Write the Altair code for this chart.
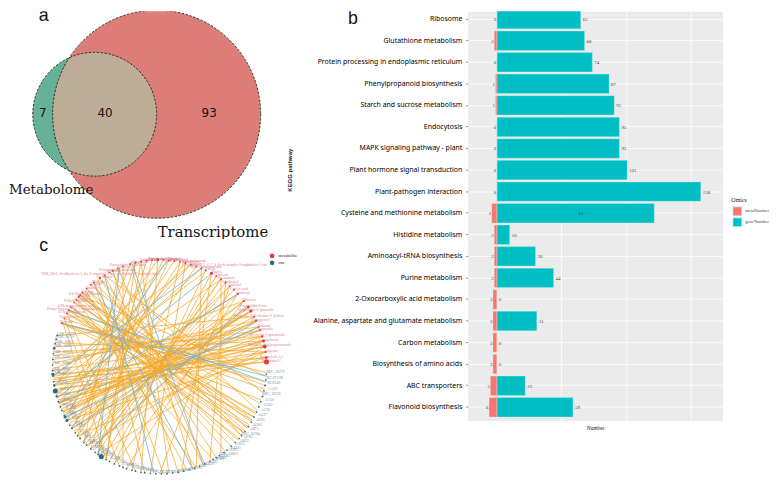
import math
import altair as alt
import pandas as pd

# ---------- panel b ----------
pathways = ["Ribosome", "Glutathione metabolism", "Protein processing in endoplasmic reticulum",
            "Phenylpropanoid biosynthesis", "Starch and sucrose metabolism", "Endocytosis",
            "MAPK signaling pathway - plant ", "Plant hormone signal transduction",
            "Plant-pathogen interaction", "Cysteine and methionine metabolism", "Histidine metabolism",
            "Aminoacyl-tRNA biosynthesis", "Purine metabolism", "2-Oxocarboxylic acid metabolism",
            "Alanine, aspartate and glutamate metabolism", "Carbon metabolism",
            "Biosynthesis of amino acids", "ABC transporters", "Flavonoid biosynthesis"]
gene_bar = [65, 68, 74, 87, 91, 95, 95, 101, 158, 122, 10, 30, 44, 0, 31, 0, 0, 22, 59]
meta_bar = [0, 2, 0, 1, 1, 0, 0, 0, 0, 4, 2, 2, 2, 3, 3, 3, 3, 5, 6]
gene_text = [65, 68, 74, 87, 91, 95, 95, 101, 158, 61, 10, 30, 44, 0, 31, 0, 0, 22, 59]
meta_text = [0, 2, 0, 1, 1, 0, 0, 0, 0, 2, 2, 2, 2, 3, 3, 3, 3, 5, 6]
gene_text_at = [65, 68, 74, 87, 91, 95, 95, 101, 158, 62, 10, 30, 44, 0, 31, 0, 0, 22, 59]

# ---------- panel a ----------
venn_values = ["7", "40", "93"]
venn_x = [42, 105, 210]
big_circle = (157, 112, 105)
small_circle = (94.5, 112, 62.5)

# ---------- panel c ----------
met_angle = [2.7, 5, 8, 11, 14, 16.5, 20, 22, 25.6, 28, 31.5, 34, 38, 43, 46, 49, 52, 55, 58, 61,
             64.5, 67, 70, 73, 76, 79, 82, 85, 88, 91, 94, 97, 100, 103, 106, 110, 113, 116, 118,
             121, 124, 128, 130, 133, 136, 138, 139, 141, 143, 146, 148, 150, 153, 156]
met_size = [28, 8, 4, 16, 10, 6, 4, 3, 5, 4, 10, 8, 4, 5, 3, 4, 4, 4, 3, 10,
            4, 4, 3, 3, 4, 4, 3, 3, 3, 8, 3, 3, 4, 4, 4, 3, 3, 3, 3,
            4, 5, 3, 3, 3, 3, 4, 4, 3, 3, 3, 4, 3, 3, 4]
met_name = ["Taxumairol C", "Kaempferol A2", "Apigenin", "Quercetin-3-glucopyranoside",
            "Isorhamnetin", "Myricetin-3-galactoside", "Rutinoside", "Chalcone", "Naringenin C",
            "Hesperetin-7-O-rhamno-2_4-diene", "Delphinidin-3-glucoside", "Procyanidin-8-one",
            "Phloretin", "Coniferyl", "Caffeic acid", "Catechol", "Eriodictyol", "Piceatannol",
            "Coniferin", "Phytol", "Fisetin", "Resveratrol glucoside",
            "Hexahydro-3_5_6_7_8_8a-hexahydro-8-naphthalen-1-one", "Syringin", "Sakuranetin",
            "Vitexin-2-O-glucopyranoside", "Ferulic acid", "Betaine", "Luteolin-7-glucoside",
            "Dihydrokaempferol", "Sinapic acid", "Gallic acid", "Orientin", "Scopoletin", "Tricin",
            "Pinocembrin-7-glucoside", "Aesculin", "Pelargonidin-3-rutinoside", "Cyanidin",
            "HdB_Hb-6_8a-dihydroxy-1_6a_3-trimethyl-2-oxo-decahydro-1H-naphtho-furan",
            "Pyranoside", "Malvidin", "Genistin", "Daidzin", "Puerarin",
            "6-b-Neohesperidoside", "Peonidin", "Glycitein", "8-Hydroxyquinoline", "4-Methoxycinnamic acid",
            "D-myo-Inositol-1_4_5-trisphosphate", "6-Hydroxyflavone", "Isoquercitrin", "Tyramine"]
rna_angle = [-4, -7, -10, -13, -16, -19, -22, -25, -28, -31, -34, -37, -40, -42, -45, -48, -51, -53,
             -56, -58, -60, -62, -65, -68, -71, -74, -77, -80, -83, -86, -89, -92, -95, -98, -100,
             -103, -105, -108, -110, -112, -115, -118, -120, -123, -125, -127, -130, -133, -135,
             -138, -140, -142, -145, -147, -150, -152, -153, -156, -158, -161, -164, -167, -170,
             -172, -175, -176, -178, -181, -184, -187, -190, -192.5, -195, -197]
rna_size = [3, 3, 4, 3, 4, 3, 3, 3, 3, 3, 3, 3, 3, 3, 3, 3, 3, 3,
            3, 3, 3, 3, 3, 3, 3, 3, 3, 3, 3, 3, 3, 3, 3, 4, 3,
            3, 3, 3, 3, 3, 3, 3, 3, 26, 4, 3, 3, 3, 3,
            4, 3, 3, 4, 3, 10, 8, 3, 3, 3, 4, 6, 26, 6, 3, 3, 12, 4, 3, 3, 3, 8, 3, 4, 4]
rna_name = ["BBC_16279", "BGAT3-IB", "BCPL69", "CAS2", "BBC_16730", "ACO1", "ACO2", "ACS6", "AGT7",
            "AOS1", "AOS2", "ARF5", "BBC_16784", "APX3", "ABF2", "ASL2", "ADH1", "AUX1",
            "CDK_16801", "BZR1", "CHS2", "CIPK9", "COI1", "CPK28", "CRK7", "CTR1", "DFR", "EDS1",
            "EIN2", "ERF1", "ETR1", "F3H", "FLS2", "GH3", "GID1", "GPX4", "GST1", "HCT", "HSP70",
            "IAA4", "JAR1", "JAZ3", "KAT2", "LOX2", "MAPK3", "MKK4", "MPK6", "MYB75", "NPR1",
            "NHL3", "OPR3", "PAL1", "PDF1", "PIF4", "PP2C", "PR1", "PTI5", "RAR1", "RBOHD",
            "RIN4", "SAUR3", "SGT1", "SNRK2", "TGA2", "TIR1", "CDK_16917", "CDK_16902", "CDK_16884",
            "CDK_16861", "CDK_16833", "CDK_16822", "CDK_16810", "CDK_16791", "CDK_16776"]
orange_a = [2.7, 5, 8, 11, 11, 14, 14, 16.5, 16.5, 20, 22, 25.6, 25.6, 28, 31.5, 31.5, 34, 34, 38, 43,
            43, 49, 52, 55, 55, 148, 148, 150, 146, 143, 139, 139, 138, 136, 133, 130, 124, 124,
            121, 121, 118, 156, 156, 153, 156, 100, 91, 79, 76, 67, 64.5, 61, 55, 52, 49, 106, 103,
            110, 97, 94, 85, 82, 70, 73, 116, 113, 125, 128, 134, 141, 145, 150, 153, 155, 112, 88,
            156, 148, 138, 5, 8, 11, 14, 25, 31, 34, 38, 43, 49, 55, 61, 64, 67, 73, 76, 79, 85, 91,
            100, 103, 106, 8, 14, 20, 28, 38, 11, 16.5, 22,
            2.7, 5, 8, 14, 20, 25.6, 31.5, 38, 46, 58, 143, 146, 138, 133, 128, 141, 150, 136]
orange_b = [186, 190, 188, 193, 196, 196, 199, 201, 182, 203, 205, 208, 178, 210, 212, 215, 217, 207,
            221, 224, 202, 228, 231, 234, 195, -38, -30, -34, -42, -26, -45, -20, -38, -48, -52, -30,
            -58, -40, -66, -14, -24, -28, -18, -12, -8, -85, -100, -105, -95, -70, -115, -78, -55,
            -62, -90, -72, -120, -110, -130, -125, -135, -150, -140, -160, -80, -65, -98, -88, -75,
            -70, -60, -103, -112, -120, -135, -145, -3, -10, -5, -150, -140, -125, -133, -160, -155,
            -130, -115, -108, -142, -128, -118, -170, -165, -175, -155, -145, -170, -160, -120, -140,
            -150, 167, 172, 176, 163, 181, 185, 169, 174,
            192, 184, 198, 187, 190, 200, 206, 214, 226, 238, -28, -33, -31, -37, -35, -43, -25, -40]
blue_a = [148, 156, 121, 112, 86, 67, 22, 35, 105, 128, 61, 25, 43]
blue_b = [-8, -5, -93, 235, 208, 185, 208, 230, -66, -72, 197, 215, 200]

PAGE_LEFT, PAGE_TOP = 8, 8
LEFT_W, A_W, A_H, C_H = 275, 400, 230, 244
CX, CY, R = 160, 367, 108

# ---------- build a ----------
def lens_rows():
    rows = []
    bx, by, br = big_circle
    sx, sy, sr = small_circle
    cross = 68.8
    steps = [52.2, 52.6, 53, 54, 56, 58, 60, 63, 66, cross, 72, 76, 80, 85, 90, 94.5, 100, 105, 110,
             115, 120, 125, 130, 135, 140, 145, 149, 152, 154, 155.5, 156.5, 157]
    for x in steps:
        if x < cross:
            h = math.sqrt(max(br * br - (x - bx) ** 2, 0))
        else:
            h = math.sqrt(max(sr * sr - (x - sx) ** 2, 0))
        rows.append({"x": x, "y": by - h, "y2": by + h})
    return pd.DataFrame(rows)

xa = alt.Scale(domain=[PAGE_LEFT, PAGE_LEFT + A_W])
ya = alt.Scale(domain=[PAGE_TOP + A_H, PAGE_TOP])
circle_df = pd.DataFrame([
    {"x": small_circle[0], "y": small_circle[1], "s": (2 * small_circle[2]) ** 2, "k": "m"},
    {"x": big_circle[0], "y": big_circle[1], "s": (2 * big_circle[2]) ** 2, "k": "t"}])

def circles(filter_k, **kw):
    return alt.Chart(circle_df[circle_df.k == filter_k]).mark_point(opacity=1, clip=True, **kw).encode(
        x=alt.X("x:Q", scale=xa, axis=None), y=alt.Y("y:Q", scale=ya, axis=None),
        size=alt.Size("s:Q", scale=None, legend=None))

lens = alt.Chart(lens_rows()).mark_area(color="#BDAD97", opacity=1).encode(
    x=alt.X("x:Q", scale=xa, axis=None), y=alt.Y("y:Q", scale=ya, axis=None), y2="y2:Q")
outline = dict(filled=False, stroke="#222222", strokeWidth=0.9, strokeDash=[2.5, 1.5])

def text_layer(df, font, size, color="#111111", align="center", baseline="middle"):
    return alt.Chart(pd.DataFrame(df)).mark_text(font=font, fontSize=size, color=color, align=align,
                                                  baseline=baseline, clip=True).encode(
        x=alt.X("x:Q", scale=xa, axis=None), y=alt.Y("y:Q", scale=ya, axis=None), text="t:N")

panel_a = alt.layer(
    circles("m", filled=True, color="#65B296"),
    circles("t", filled=True, color="#DC7D78"),
    lens,
    circles("m", **outline),
    circles("t", **outline),
    text_layer({"x": venn_x, "y": [111] * 3, "t": venn_values}, "DejaVu Sans", 12),
    text_layer({"x": [8], "y": [189], "t": ["Metabolome"]}, "DejaVu Serif", 13.5, align="left"),
    text_layer({"x": [158], "y": [231], "t": ["Transcriptome"]}, "DejaVu Serif", 15, align="left"),
    text_layer({"x": [43, 355], "y": [18, 21], "t": ["a", "b"]}, "Liberation Sans", 18, baseline="alphabetic"),
).properties(width=A_W, height=A_H, view=alt.ViewConfig(stroke="transparent"))

# ---------- build c ----------
xc = alt.Scale(domain=[(PAGE_LEFT - CX) / R, (PAGE_LEFT + LEFT_W - CX) / R])
yc = alt.Scale(domain=[(CY - (PAGE_TOP + A_H + C_H)) / R, (CY - (PAGE_TOP + A_H)) / R])

def pt(a):
    return math.cos(math.radians(a)), math.sin(math.radians(a))

def edge_df(aa, bb):
    rows = []
    for a, b in zip(aa, bb):
        x, y = pt(a)
        x2, y2 = pt(b)
        rows.append({"x": x, "y": y, "x2": x2, "y2": y2})
    return pd.DataFrame(rows)

def edges(aa, bb, color, op):
    return alt.Chart(edge_df(aa, bb)).mark_rule(color=color, strokeWidth=0.85, opacity=op).encode(
        x=alt.X("x:Q", scale=xc, axis=None), y=alt.Y("y:Q", scale=yc, axis=None), x2="x2:Q", y2="y2:Q")

label_shift = {"HdB_Hb-6_8a-dihydroxy-1_6a_3-trimethyl-2-oxo-decahydro-1H-naphtho-furan": -9,
               "Hexahydro-3_5_6_7_8_8a-hexahydro-8-naphthalen-1-one": 24}
nodes = []
for a, s, n in zip(met_angle, met_size, met_name):
    x, y = pt(a)
    nodes.append({"x": x, "y": y, "s": s, "kind": "metabolite", "name": n,
                  "lx": x + (label_shift.get(n, 0) + 5) / R, "ly": y + 1 / R})
for a, s, n in zip(rna_angle, rna_size, rna_name):
    x, y = pt(a)
    nodes.append({"x": x, "y": y, "s": s, "kind": "rna", "name": n,
                  "lx": x + 9 / R, "ly": y + 2 / R})
nd = pd.DataFrame(nodes)
colorc = alt.Scale(domain=["metabolite", "rna"], range=["#E03C3E", "#2A6A8F"])
node_layer = alt.Chart(nd).mark_circle(opacity=1).encode(
    x=alt.X("x:Q", scale=xc, axis=None), y=alt.Y("y:Q", scale=yc, axis=None),
    size=alt.Size("s:Q", scale=None, legend=None),
    color=alt.Color("kind:N", scale=colorc, title=None,
                    legend=alt.Legend(orient="none", legendX=262, legendY=14, symbolSize=22,
                                      labelFont="Liberation Serif", labelFontSize=4.5, labelColor="#222222",
                                      rowPadding=1, labelOffset=3, symbolOpacity=1, clipHeight=6)))
labels_m = alt.Chart(nd[nd.kind == "metabolite"]).mark_text(font="Liberation Serif", fontSize=3.7, color="#D8808C").encode(
    x=alt.X("lx:Q", scale=xc, axis=None), y=alt.Y("ly:Q", scale=yc, axis=None), text="name:N")
labels_r = alt.Chart(nd[nd.kind == "rna"]).mark_text(font="Liberation Serif", fontSize=3.7, color="#76909F").encode(
    x=alt.X("lx:Q", scale=xc, axis=None), y=alt.Y("ly:Q", scale=yc, axis=None), text="name:N")
letter_c = alt.Chart(pd.DataFrame({"x": [(43 - CX) / R], "y": [(CY - 250) / R], "t": ["c"]})).mark_text(
    font="Liberation Sans", fontSize=18, color="#111111", baseline="alphabetic").encode(
    x=alt.X("x:Q", scale=xc, axis=None), y=alt.Y("y:Q", scale=yc, axis=None), text="t:N")
panel_c = alt.layer(
    edges(orange_a, orange_b, "#F3A92F", 0.9),
    edges(blue_a, blue_b, "#6FB3DC", 0.95),
    labels_m, labels_r, node_layer, letter_c,
).properties(width=LEFT_W, height=C_H, view=alt.ViewConfig(stroke="transparent"))

# ---------- build b ----------
rows = []
for p, g, m in zip(pathways, gene_bar, meta_bar):
    rows.append({"p": p, "start": 0, "end": g, "Omics": "geneNumber"})
    rows.append({"p": p, "start": -m, "end": 0, "Omics": "metaNumber"})
bars_df = pd.DataFrame(rows)
lab_df = pd.DataFrame({"p": pathways, "g": gene_text, "gx": gene_text_at, "m": meta_text,
                       "mx": [-v for v in meta_bar]})
B_H = 413
xb = alt.Scale(domain=[-22.5, 174.8], nice=False, zero=False)
yb = alt.Scale(domain=pathways, range=[-5, B_H - 0.2], paddingInner=0.1, paddingOuter=0.15)
ycol = alt.Y("p:N", sort=pathways, scale=yb,
             title="KEGG pathway",
             axis=alt.Axis(domain=False, tickSize=2, tickColor="#333333", tickWidth=0.6, labelPadding=4,
                           labelFont="Noto Sans", labelFontSize=7, labelColor="#000000", labelLimit=300,
                           gridColor="#FFFFFF", grid=True, gridWidth=0.8,
                           titleFont="Liberation Sans", titleFontSize=6, titleFontWeight="bold",
                           titleColor="#222222", titleX=-177, titleY=160, titleAngle=270))
xcol = alt.X("start:Q", scale=xb, title="Number",
             axis=alt.Axis(values=[50, 100, 150], labels=False, ticks=False, domain=False,
                           gridColor="#FFFFFF", gridWidth=0.8, titleFont="Liberation Serif", titleFontSize=5.5,
                           titleFontWeight="normal", titleColor="#222222", titlePadding=5))
bars = alt.Chart(bars_df).mark_bar(stroke="#E0F5F5", strokeWidth=0.3, clip=True).encode(
    y=ycol, x=xcol, x2="end:Q",
    color=alt.Color("Omics:N", scale=alt.Scale(domain=["metaNumber", "geneNumber"], range=["#F8766D", "#00BFC4"]),
                    legend=alt.Legend(orient="none", legendX=266, legendY=188, symbolType="square", symbolSize=95,
                                      symbolOpacity=1, titleFont="Liberation Serif", titleFontSize=6,
                                      titleFontWeight="normal", titleColor="#222222", titlePadding=3,
                                      labelFont="Liberation Serif", labelFontSize=4.6, labelColor="#444444",
                                      rowPadding=1, labelOffset=2, clipHeight=10)))
ytxt = alt.Y("p:N", sort=pathways, scale=yb)
g_text = alt.Chart(lab_df).mark_text(font="Liberation Serif", fontSize=5, color="#444444", align="left", dx=2).encode(
    x=alt.X("gx:Q", scale=xb), y=ytxt, text="g:Q")
m_text = alt.Chart(lab_df).mark_text(font="Liberation Serif", fontSize=5, color="#444444", align="right", dx=-0.5).encode(
    x=alt.X("mx:Q", scale=xb), y=ytxt, text="m:Q")
panel_b = alt.layer(bars, g_text, m_text).properties(
    width=257, height=B_H, view=alt.ViewConfig(fill="#EBEBEB", stroke="transparent"))

left = alt.vconcat(panel_a, panel_c, spacing=0, bounds="flush").resolve_scale(color="independent")
chart = alt.hconcat(left, panel_b, spacing=463, bounds="flush").resolve_scale(color="independent")
chart = chart.properties(padding=0).configure_view(stroke=None).configure(background="white")
chart.save("out.html", embed_options={"renderer": "svg", "actions": False})
